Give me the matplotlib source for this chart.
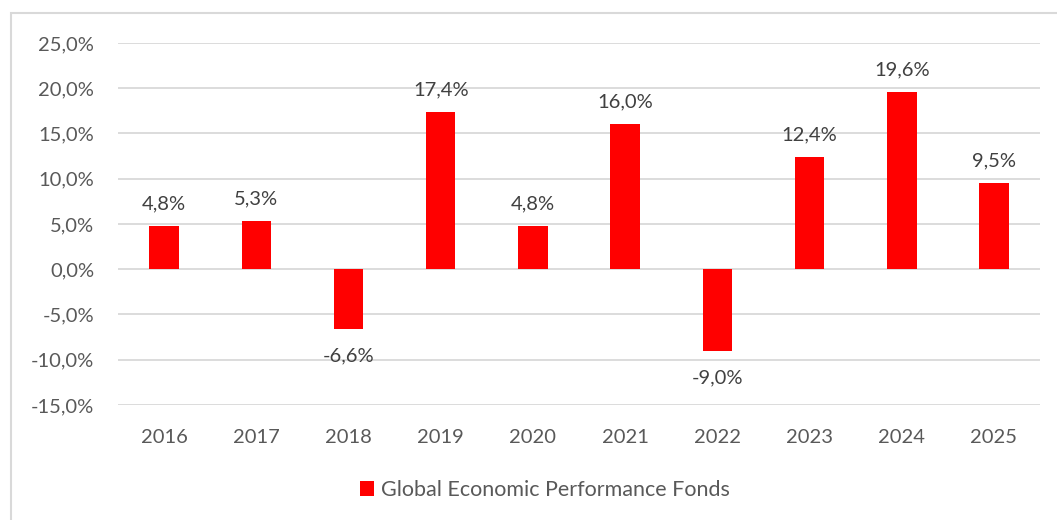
import matplotlib.pyplot as plt
from matplotlib.patches import Rectangle
import numpy as np

years = ['2016', '2017', '2018', '2019', '2020', '2021', '2022', '2023', '2024', '2025']
returns = [4.8, 5.3, -6.6, 17.4, 4.8, 16.0, -9.0, 12.4, 19.6, 9.5]
series_name = 'Global Economic Performance Fonds'

plt.rcParams['font.family'] = ['Lato', 'DejaVu Sans']
grey = '#595959'
fs = 14.5

fig = plt.figure(figsize=(10.57, 5.2), dpi=100)
ax = fig.add_axes([0.1116, 0.2212, 0.8724, 0.6961])

x = np.arange(len(years))
ax.bar(x, returns, width=0.32, color='#ff0000', label=series_name, zorder=3)

for xi, v in zip(x, returns):
    lab = ('%.1f%%' % v).replace('.', ',')
    if v >= 0:
        ax.annotate(lab, (xi, v), xytext=(0, 10), textcoords='offset points',
                    ha='center', va='bottom', fontsize=fs, color='#404040')
    else:
        ax.annotate(lab, (xi, v), xytext=(0, -13.5), textcoords='offset points',
                    ha='center', va='top', fontsize=fs, color='#404040')

ax.set_xlim(-0.5, len(years) - 0.5)
ax.set_ylim(-15, 25)
ticks = np.arange(-15, 26, 5)
ax.set_yticks(ticks)
ax.set_yticklabels([('%.1f%%' % t).replace('.', ',') for t in ticks])
ax.set_xticks(x)
ax.set_xticklabels(years)
ax.tick_params(axis='both', length=0, labelsize=fs, colors=grey)
ax.tick_params(axis='y', pad=17)
ax.tick_params(axis='x', pad=17)
ax.grid(axis='y', color='#d9d9d9', lw=1.3, zorder=0)
for s in ax.spines.values():
    s.set_visible(False)

ax.legend(loc='center', bbox_to_anchor=(545 / 1057, 1 - 490 / 520), bbox_transform=fig.transFigure,
          frameon=False, fontsize=15.5, labelcolor=grey, handlelength=0.65, handleheight=0.65,
          handletextpad=0.35)

fig.patches.append(Rectangle((11 / 1057, -0.1), 1.2, 1.1 - 13 / 520, transform=fig.transFigure,
                             fill=False, ec='#d9d9d9', lw=1.5, clip_on=False))

fig.savefig('out.png', dpi=100)
